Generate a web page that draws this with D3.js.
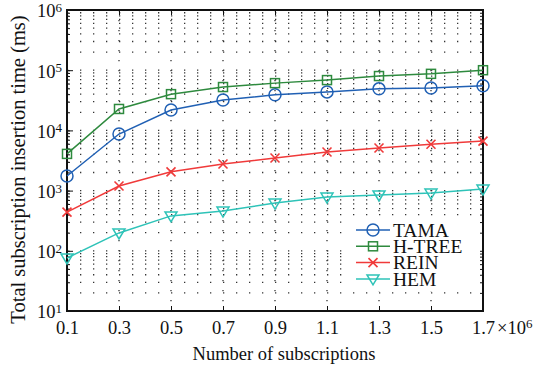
<!DOCTYPE html>
<html>
<head>
<meta charset="utf-8">
<script src="https://cdn.jsdelivr.net/npm/d3@7"></script>
<style>
  body { margin: 0; background: #fff; }
</style>
</head>
<body>
<div id="chart"></div>
<script>
// x values in millions of subscriptions
const subscriptions = [0.1, 0.3, 0.5, 0.7, 0.9, 1.1, 1.3, 1.5, 1.7];
const xTicks = [0.1, 0.3, 0.5, 0.7, 0.9, 1.1, 1.3, 1.5, 1.7];
const yDecades = [1, 2, 3, 4, 5, 6];

// insertion time (ms)
const tama = [1750, 8700, 21800, 32000, 39000, 43600, 49000, 50500, 55000];
const htree = [4070, 22700, 40000, 52500, 61000, 68500, 80000, 87000, 100000];
const rein = [440, 1190, 2050, 2760, 3480, 4370, 5100, 5900, 6650];
const hem = [76, 198, 380, 458, 620, 780, 845, 910, 1060];

const seriesNames = ["TAMA", "H-TREE", "REIN", "HEM"];
const seriesColors = ["#2060b4", "#2e8a3e", "#f03a3a", "#2ec3b8"];
const seriesMarkers = ["circle", "square", "cross", "triangle"];

const FONT = "'Liberation Serif', 'Times New Roman', Times, serif";

const props = {
  width: 543, height: 368,
  top: 10, right: 60, bottom: 57, left: 67
};

const series = [tama, htree, rein, hem].map((vals, i) => ({
  name: seriesNames[i],
  color: seriesColors[i],
  marker: seriesMarkers[i],
  values: vals.map((v, j) => ({ x: subscriptions[j], y: v }))
}));

const svg = d3.select("#chart").append("svg")
  .attr("width", props.width)
  .attr("height", props.height)
  .attr("font-family", FONT);

const width = props.width - props.left - props.right;
const height = props.height - props.top - props.bottom;

const g = svg.append("g")
  .attr("transform", `translate(${props.left},${props.top})`);

const x = d3.scaleLinear().domain([0.1, 1.7]).range([0, width]);
const y = d3.scaleLog().domain([10, 1e6]).range([height, 0]);

// log minor values 1..9 x each decade
const yMinor = [];
for (let e = 1; e < 6; e++) {
  for (let k = 1; k <= 9; k++) yMinor.push(k * Math.pow(10, e));
}
yMinor.push(1e6);

// horizontal dotted grid (major + minor)
g.append("g").attr("class", "ygrid")
  .selectAll("line")
  .data(yMinor)
  .enter().append("line")
    .attr("x1", 0).attr("x2", width)
    .attr("y1", d => y(d)).attr("y2", d => y(d))
    .attr("stroke", "#333")
    .attr("stroke-width", 1.3)
    .attr("stroke-dasharray", "1.3,11.7");

// vertical dotted grid at x ticks
g.append("g").attr("class", "xgrid")
  .selectAll("line")
  .data(xTicks)
  .enter().append("line")
    .attr("x1", d => x(d)).attr("x2", d => x(d))
    .attr("y1", 0).attr("y2", height)
    .attr("stroke", "#333")
    .attr("stroke-width", 1.3)
    .attr("stroke-dasharray", "1.3,8.7");

// x axis (bottom) ticks inward
const xAxis = d3.axisBottom(x)
  .tickValues(xTicks)
  .tickSize(-5)
  .tickFormat(d3.format(".1f"));

const xa = g.append("g")
  .attr("class", "x axis")
  .attr("transform", `translate(0,${height})`)
  .call(xAxis);
xa.attr("font-family", FONT);
xa.select(".domain").remove();
xa.selectAll(".tick line").attr("stroke", "#111").attr("stroke-width", 1);
xa.selectAll(".tick text")
  .attr("y", 10)
  .attr("dy", "0.71em")
  .attr("fill", "#111")
  .style("font-size", "18.5px");

// top ticks
g.append("g")
  .call(d3.axisTop(x).tickValues(xTicks).tickSize(-5).tickFormat(""))
  .call(s => s.select(".domain").remove())
  .selectAll(".tick line").attr("stroke", "#111");

// y axis left with minor ticks
g.append("g")
  .call(d3.axisLeft(y).tickValues(yMinor).tickSize(-3).tickFormat(""))
  .call(s => s.select(".domain").remove())
  .selectAll(".tick line").attr("stroke", "#111");
g.append("g")
  .call(d3.axisLeft(y).tickValues(yDecades.map(e => Math.pow(10, e))).tickSize(-6).tickFormat(""))
  .call(s => s.select(".domain").remove())
  .selectAll(".tick line").attr("stroke", "#111");
g.append("g")
  .attr("transform", `translate(${width},0)`)
  .call(d3.axisRight(y).tickValues(yMinor).tickSize(-3).tickFormat(""))
  .call(s => s.select(".domain").remove())
  .selectAll(".tick line").attr("stroke", "#111");

// y tick labels 10^n
const yLab = g.append("g").attr("class", "y labels");
yDecades.forEach(e => {
  const t = yLab.append("text")
    .attr("x", -5)
    .attr("y", y(Math.pow(10, e)) + 1)
    .attr("dy", "0.35em")
    .attr("fill", "#111")
    .style("text-anchor", "end")
    .style("font-size", "18.5px");
  t.append("tspan").text("10");
  t.append("tspan").attr("dy", "-0.42em").style("font-size", "13px").text(e);
});

// box
g.append("rect")
  .attr("width", width).attr("height", height)
  .attr("fill", "none")
  .attr("stroke", "#111")
  .attr("stroke-width", 2);

// x10^6 multiplier
const mult = g.append("text")
  .attr("x", width + 14)
  .attr("y", height + 10)
  .attr("dy", "0.71em")
  .attr("fill", "#111")
  .style("font-size", "18.5px");
mult.append("tspan").text("\u00d710");
mult.append("tspan").attr("dy", "-0.45em").style("font-size", "13px").text("6");

// axis labels
g.append("text")
  .attr("x", width / 2 + 9)
  .attr("y", height + 49)
  .attr("fill", "#111")
  .style("text-anchor", "middle")
  .style("font-size", "18.5px")
  .text("Number of subscriptions");

g.append("text")
  .attr("transform", "rotate(-90)")
  .attr("x", -height / 2 - 9)
  .attr("y", -42)
  .attr("fill", "#111")
  .style("text-anchor", "middle")
  .style("font-size", "20.5px")
  .text("Total subscription insertion time (ms)");

// marker drawing
function drawMarker(sel, type, color) {
  if (type === "circle") {
    sel.append("circle").attr("r", 6)
      .attr("fill", "none").attr("stroke", color).attr("stroke-width", 1.5);
  } else if (type === "square") {
    sel.append("rect").attr("x", -4.5).attr("y", -4.5).attr("width", 9).attr("height", 9)
      .attr("fill", "none").attr("stroke", color).attr("stroke-width", 1.5);
  } else if (type === "cross") {
    sel.append("path").attr("d", "M-4.5,-4.5L4.5,4.5M-4.5,4.5L4.5,-4.5")
      .attr("fill", "none").attr("stroke", color).attr("stroke-width", 1.6);
  } else {
    sel.append("path").attr("d", "M-6,-4L6,-4L0,6Z")
      .attr("fill", "none").attr("stroke", color).attr("stroke-width", 1.5);
  }
}

const line = d3.line()
  .x(d => x(d.x))
  .y(d => y(d.y));

series.forEach(s => {
  g.append("path")
    .datum(s.values)
    .attr("fill", "none")
    .attr("stroke", s.color)
    .attr("stroke-width", 1.5)
    .attr("d", line);
  g.selectAll(null)
    .data(s.values)
    .enter().append("g")
      .attr("transform", d => `translate(${x(d.x)},${y(d.y)})`)
      .each(function () { drawMarker(d3.select(this), s.marker, s.color); });
});

// legend
const legend = g.append("g")
  .attr("transform", `translate(${width - 135},${height - 92})`);
legend.append("rect")
  .attr("x", 0).attr("y", 0)
  .attr("width", 130).attr("height", 72)
  .attr("fill", "#fff");
series.forEach((s, i) => {
  const row = legend.append("g").attr("transform", `translate(0,${11 + i * 16.3})`);
  row.append("line").attr("x1", 8).attr("x2", 42)
    .attr("stroke", s.color).attr("stroke-width", 1.5);
  drawMarker(row.append("g").attr("transform", "translate(25,0)"), s.marker, s.color);
  row.append("text")
    .attr("x", 45)
    .attr("dy", "0.35em")
    .attr("fill", "#111")
    .style("font-size", "19.5px")
    .text(s.name);
});
</script>
</body>
</html>
